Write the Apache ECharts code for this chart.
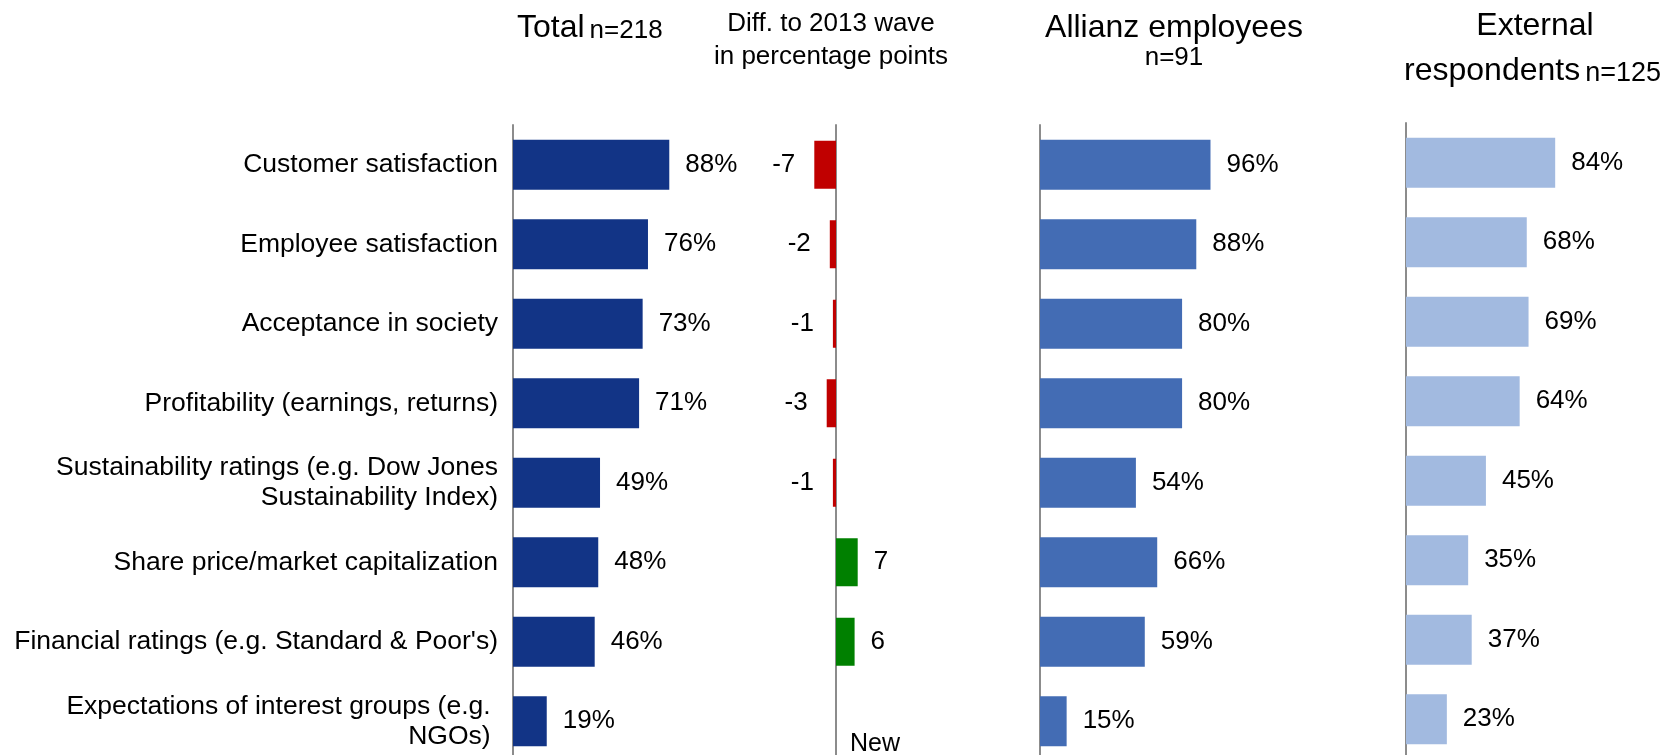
<!DOCTYPE html>
<html>
<head>
<meta charset="utf-8">
<script src="https://cdn.jsdelivr.net/npm/echarts@6/dist/echarts.min.js"></script>
<style>
  html, body { margin: 0; padding: 0; background: #fff; }
  #chart { width: 1668px; height: 755px; }
</style>
</head>
<body>
<div id="chart"></div>
<script>
// Categories (top to bottom)
const categories = [
  'Customer satisfaction',
  'Employee satisfaction',
  'Acceptance in society',
  'Profitability (earnings, returns)',
  'Sustainability ratings (e.g. Dow Jones\nSustainability Index)',
  'Share price/market capitalization',
  'Financial ratings (e.g. Standard & Poor\'s)',
  'Expectations of interest groups (e.g. \nNGOs) '
];

// Shares in percent
const totalValues    = [88, 76, 73, 71, 49, 48, 46, 19];
const allianzValues  = [96, 88, 80, 80, 54, 66, 59, 15];
const externalValues = [84, 68, 69, 64, 45, 35, 37, 23];

// Change versus the 2013 wave, percentage points (null = new item)
const diffValues = [-7, -2, -1, -3, -1, 7, 6, null];
const newItemText = 'New';

const FONT = 'Liberation Sans, Arial, sans-serif';
const AXIS_GREY = '#8c8c8c';
const GRID_TOP = 125;
const GRID_H = 636;
const PCT_W = 177.6;

const chart = echarts.init(document.getElementById('chart'));

function catAxis(gridIndex, showLabels) {
  return {
    type: 'category',
    gridIndex: gridIndex,
    inverse: true,
    data: categories,
    axisTick: { show: false },
    axisLine: { show: true, onZero: true, lineStyle: { color: AXIS_GREY, width: 2 } },
    axisLabel: {
      show: showLabels,
      fontFamily: FONT,
      fontSize: 26.5,
      color: '#000',
      margin: 15,
      lineHeight: 30,
      align: 'right'
    }
  };
}

function valAxis(gridIndex, min, max) {
  return { type: 'value', gridIndex: gridIndex, min: min, max: max, show: false };
}

const pctLabel = {
  show: true,
  position: 'right',
  distance: 16,
  formatter: '{c}%',
  fontFamily: FONT,
  fontSize: 26,
  color: '#000'
};

function pctSeries(idx, values, color) {
  return {
    type: 'bar',
    xAxisIndex: idx,
    yAxisIndex: idx,
    data: values,
    barWidth: 50,
    itemStyle: { color: color },
    label: pctLabel,
    silent: true
  };
}

const diffData = diffValues.map(v => {
  if (v === null) {
    return {
      value: 0,
      label: {
        show: true, position: 'right', distance: 14, offset: [0, 23],
        formatter: newItemText, fontFamily: FONT, fontSize: 25, color: '#000'
      }
    };
  }
  const neg = v < 0;
  return {
    value: v,
    itemStyle: { color: neg ? '#C00000' : '#008000' },
    label: {
      show: true,
      position: neg ? 'left' : 'right',
      distance: neg ? 19 : 16,
      formatter: '{c}',
      fontFamily: FONT,
      fontSize: 26,
      color: '#000'
    }
  };
});

function tok(size, lh, va) {
  const t = { fontFamily: FONT, fontSize: size, fontWeight: 'normal', color: '#000', lineHeight: lh };
  if (va) t.verticalAlign = va;
  return t;
}

const plainTitle = (size) => ({ fontFamily: FONT, fontSize: size, fontWeight: 'normal', color: '#000' });

const option = {
  animation: false,
  backgroundColor: '#fff',
  title: [
    {
      left: 512, top: 3,
      text: '{a|Total} {b|n=218}',
      textStyle: { rich: { a: tok(32, 36, 'bottom'), b: tok(26, 36, 'bottom') } }
    },
    {
      left: 826, top: 2, textAlign: 'center',
      text: 'Diff. to 2013 wave\nin percentage points',
      textStyle: { fontFamily: FONT, fontSize: 26, fontWeight: 'normal', color: '#000', lineHeight: 33, align: 'center' }
    },
    {
      left: 1169, top: 6, textAlign: 'center',
      text: '{a|Allianz employees}\n{b|n=91}',
      textStyle: { align: 'center', rich: { a: tok(32, 34), b: tok(26, 26) } }
    },
    {
      left: 1530, top: 5, textAlign: 'center',
      text: 'External',
      textStyle: plainTitle(32)
    },
    {
      left: 1656, top: 44, textAlign: 'right',
      text: '{c|respondents} {b|n=125}',
      textStyle: { rich: { c: tok(32, 38, 'bottom'), b: tok(27, 38, 'bottom') } }
    }
  ],
  grid: [
    { left: 513, top: GRID_TOP, width: PCT_W, height: GRID_H, outerBoundsMode: 'none' },
    { left: 805, top: GRID_TOP, width: 62, height: GRID_H, outerBoundsMode: 'none' },
    { left: 1040, top: GRID_TOP, width: PCT_W, height: GRID_H, outerBoundsMode: 'none' },
    { left: 1406, top: GRID_TOP - 2, width: PCT_W, height: GRID_H, outerBoundsMode: 'none' }
  ],
  xAxis: [
    valAxis(0, 0, 100),
    valAxis(1, -10, 10),
    valAxis(2, 0, 100),
    valAxis(3, 0, 100)
  ],
  yAxis: [
    catAxis(0, true),
    catAxis(1, false),
    catAxis(2, false),
    catAxis(3, false)
  ],
  series: [
    pctSeries(0, totalValues, '#123486'),
    {
      type: 'bar',
      xAxisIndex: 1,
      yAxisIndex: 1,
      data: diffData,
      barWidth: 48,
      silent: true
    },
    pctSeries(2, allianzValues, '#436CB4'),
    pctSeries(3, externalValues, '#A2BAE0')
  ]
};

chart.setOption(option);
</script>
</body>
</html>
